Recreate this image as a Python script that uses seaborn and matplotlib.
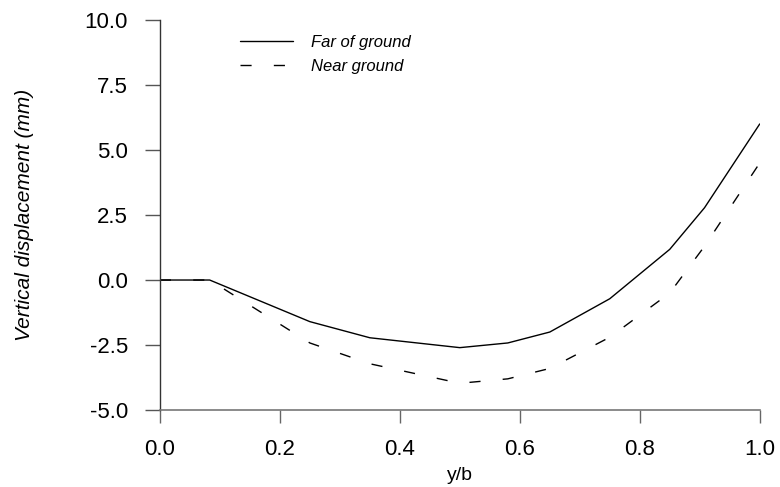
import matplotlib

matplotlib.use("Agg")
import matplotlib.pyplot as plt
import pandas as pd
import seaborn as sns

# positions along the span (y/b) and vertical displacement in mm
x_far = [0.0, 0.083, 0.25, 0.35, 0.5, 0.58, 0.65, 0.75, 0.85, 0.908, 1.0]
far_of_ground = [0.0, 0.0, -1.6, -2.22, -2.6, -2.42, -2.0, -0.72, 1.18, 2.78, 6.0]
x_near = [0.0, 0.083, 0.25, 0.35, 0.5, 0.58, 0.65, 0.75, 0.85, 0.908, 1.0]
near_ground = [0.0, 0.0, -2.42, -3.22, -3.97, -3.8, -3.4, -2.2, -0.5, 1.3, 4.5]

x_ticks = [0.0, 0.2, 0.4, 0.6, 0.8, 1.0]
y_ticks = [-5.0, -2.5, 0.0, 2.5, 5.0, 7.5, 10.0]

df = pd.concat(
    [
        pd.DataFrame({"x": x_far, "disp": far_of_ground, "case": "Far of ground"}),
        pd.DataFrame({"x": x_near, "disp": near_ground, "case": "Near ground"}),
    ],
    ignore_index=True,
)

sns.set_style("white")
plt.rcParams["font.family"] = ["Liberation Sans", "DejaVu Sans"]
plt.rcParams["text.color"] = "black"
plt.rcParams["axes.labelcolor"] = "black"

fig = plt.figure(figsize=(7.8, 4.87), dpi=100)
ax = fig.add_axes([0.205, 0.158, 0.769, 0.801])

sns.lineplot(
    data=df,
    x="x",
    y="disp",
    style="case",
    dashes={"Far of ground": "", "Near ground": (8, 16)},
    color="black",
    linewidth=1.0,
    ax=ax,
)

ax.set_xlim(0, 1.0)
ax.set_ylim(-5, 10)
ax.set_xticks(x_ticks)
ax.set_yticks(y_ticks)
ax.set_xticklabels([f"{t:.1f}" for t in x_ticks])
ax.set_yticklabels([f"{t:.1f}" for t in y_ticks])
ax.tick_params(axis="x", direction="out", length=9, width=1, color="#666666",
               labelsize=16, labelcolor="black", pad=12, bottom=True)
ax.tick_params(axis="y", direction="out", length=11, width=1, color="#555555",
               labelsize=16, labelcolor="black", pad=12, left=True)
for side in ["top", "right"]:
    ax.spines[side].set_visible(False)
ax.spines["left"].set_color("#333333")
ax.spines["bottom"].set_color("#777777")
ax.spines["left"].set_linewidth(1.0)
ax.spines["bottom"].set_linewidth(1.2)

ax.set_xlabel("y/b", fontsize=14, labelpad=5)
ax.set_ylabel("Vertical displacement (mm)", fontsize=15, style="italic")
ax.yaxis.set_label_coords(-0.21, 0.5)

leg = ax.legend(
    loc="upper left",
    bbox_to_anchor=(0.133, 0.962),
    frameon=False,
    borderaxespad=0,
    borderpad=0,
    handlelength=3.2,
    handletextpad=1.1,
    labelspacing=0.55,
    prop={"style": "italic", "size": 12},
    title=None,
)
for text in leg.get_texts():
    text.set_color("black")

fig.savefig("out.png", dpi=100)
